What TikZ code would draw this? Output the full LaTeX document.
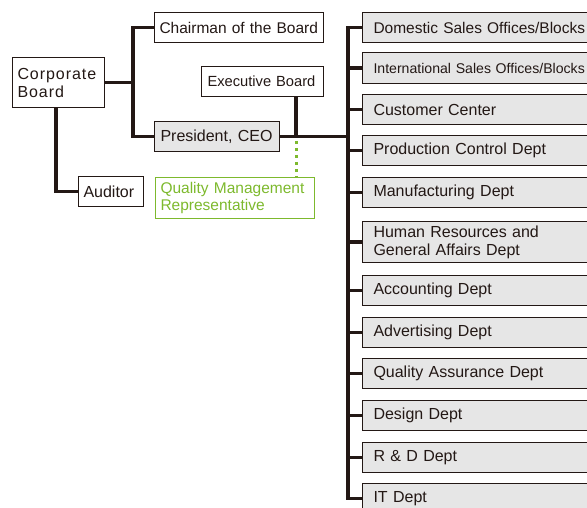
\documentclass[tikz,border=0pt]{standalone}
\usepackage{fontspec}
\setmainfont{Liberation Sans}
\definecolor{ink}{RGB}{35,24,21}
\definecolor{boxgray}{RGB}{230,230,230}
\definecolor{qgreen}{RGB}{125,185,45}
\newcommand{\fsA}{\fontsize{16}{18}\selectfont}
\newcommand{\fsB}{\fontsize{15.5}{17.5}\selectfont}
\begin{document}
\begin{tikzpicture}[x=1pt,y=-1pt,
  bx/.style={draw=ink, line width=1pt, anchor=north west, inner ysep=0pt, inner xsep=6pt, align=left, text=ink},
  dept/.style={bx, fill=boxgray, inner xsep=11pt, text width=250pt, minimum height=30pt, font=\fsA},
  conn/.style={draw=ink, line width=3.2pt, line join=miter},
  dotg/.style={draw=qgreen, line width=3pt, dash pattern=on 3pt off 4pt}]
\useasboundingbox (0,0) rectangle (587,508);
% left side
\node[bx, inner xsep=5pt, text width=82pt, minimum height=50pt, font=\fsA\addfontfeatures{LetterSpace=6}] (cb) at (12,57) {Corporate\\Board};
\node[bx, inner xsep=5pt, text width=159pt, minimum height=30pt, font=\fsB] (ch) at (154,12) {Chairman of the Board};
\node[bx, text width=110pt, minimum height=30pt, font=\fontsize{14.7}{17}\selectfont] (ex) at (201,66) {Executive Board};
\node[bx, fill=boxgray, text width=113pt, minimum height=30pt, font=\fsA] (ceo) at (154,121) {President, CEO};
\node[bx, inner xsep=5pt, text width=55pt, minimum height=30pt, font=\fsA] (aud) at (78,176) {Auditor};
\node[bx, draw=qgreen, text=qgreen, inner xsep=5pt, text width=149pt, minimum height=41pt, font=\fsB] (qmr) at (155,177) {Quality Management\\Representative};
% right departments
\node[dept, font=\fontsize{15.5}{18}\selectfont] (d1) at (362,12) {Domestic Sales Offices/Blocks};
\node[dept, minimum height=31pt, font=\fontsize{14.1}{17}\selectfont] (d2) at (362,52) {International Sales Offices/Blocks};
\node[dept] (d3) at (362,94) {Customer Center};
\node[dept] (d4) at (362,135) {Production Control Dept};
\node[dept] (d5) at (362,177) {Manufacturing Dept};
\node[dept, minimum height=41pt] (d6) at (362,221) {Human Resources and\\General Affairs Dept};
\node[dept] (d7) at (362,275) {Accounting Dept};
\node[dept] (d8) at (362,317) {Advertising Dept};
\node[dept] (d9) at (362,358) {Quality Assurance Dept};
\node[dept] (d10) at (362,400) {Design Dept};
\node[dept] (d11) at (362,442) {R \& D Dept};
\node[dept] (d12) at (362,483) {IT Dept};
% junction coordinates
\coordinate (jx) at (133,82);
\coordinate (ax) at (56,0);
\coordinate (ej) at (296,136);
\coordinate (dj) at (296,141);
\coordinate (tr) at (348,0);
% connectors
\draw[conn] (cb.east) -- (cb.east -| jx);
\draw[conn] (ch.west) -| (ceo.west -| jx) -- (ceo.west);
\draw[conn] (cb.south -| ax) |- (aud.west);
\draw[conn] (ex.south -| ej) -- (ej);
\draw[conn] (ceo.east) -- (ceo.east -| tr);
\draw[conn] (d1.west) -| (d12.west -| tr) -- (d12.west);
\foreach \n in {d2,d3,d4,d5,d6,d7,d8,d9,d10,d11}
  \draw[conn] (\n.west -| tr) -- (\n.west);
\draw[dotg] (dj) -- (qmr.north -| dj);
\end{tikzpicture}
\end{document}
